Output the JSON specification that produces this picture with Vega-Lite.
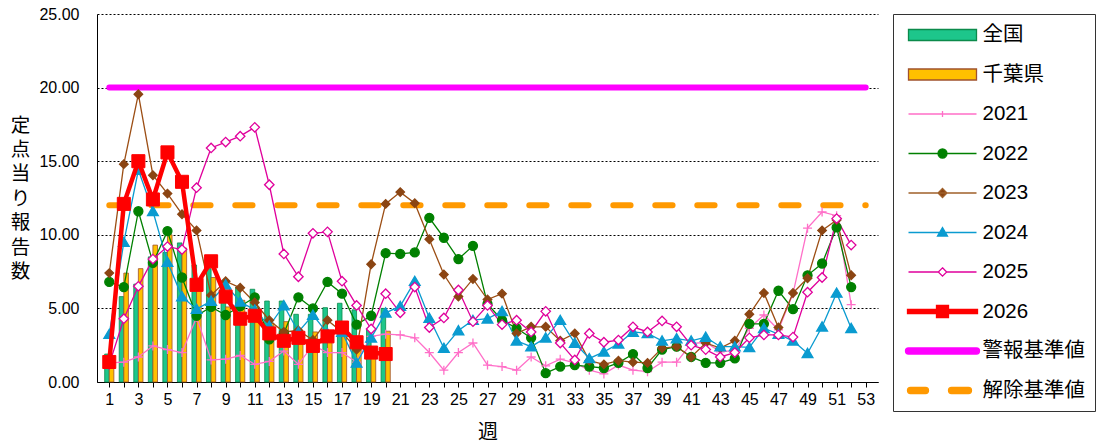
{
  "$schema": "https://vega.github.io/schema/vega-lite/v6.json",
  "width": 781,
  "height": 368,
  "autosize": {"type": "none"},
  "padding": {"left": 97, "top": 14, "right": 221, "bottom": 64},
  "background": "white",
  "config": {
    "font": "Liberation Sans, Noto Sans CJK JP, sans-serif",
    "view": {"stroke": null},
    "legend": {
      "orient": "right",
      "offset": 15,
      "padding": 10,
      "strokeColor": "#333333",
      "fillColor": "white",
      "symbolSize": 400,
      "symbolStrokeWidth": 1.3,
      "symbolOffset": 28.5,
      "labelOffset": 29,
      "labelFontSize": 20.5,
      "labelColor": "black",
      "labelFont": "Liberation Sans, Noto Sans CJK JP, sans-serif",
      "rowPadding": 17.5,
      "labelLimit": 300
    }
  },
  "datasets": {
    "bars": [
      {"week":1,"series":"全国","value":1.9},{"week":2,"series":"全国","value":5.8},{"week":3,"series":"全国","value":6.65},{"week":4,"series":"全国","value":8.5},{"week":5,"series":"全国","value":8.8},{"week":6,"series":"全国","value":9.45},{"week":7,"series":"全国","value":7.95},{"week":8,"series":"全国","value":7.7},{"week":9,"series":"全国","value":6.05},{"week":10,"series":"全国","value":6.45},{"week":11,"series":"全国","value":6.3},{"week":12,"series":"全国","value":5.5},{"week":13,"series":"全国","value":5.5},{"week":14,"series":"全国","value":4.6},{"week":15,"series":"全国","value":4.6},{"week":16,"series":"全国","value":5.05},{"week":17,"series":"全国","value":5.35},{"week":18,"series":"全国","value":4.9},{"week":19,"series":"全国","value":3.6},{"week":20,"series":"全国","value":5.0},
      {"week":1,"series":"千葉県","value":1.0},{"week":2,"series":"千葉県","value":7.4},{"week":3,"series":"千葉県","value":7.7},{"week":4,"series":"千葉県","value":9.3},{"week":5,"series":"千葉県","value":10.0},{"week":6,"series":"千葉県","value":9.1},{"week":7,"series":"千葉県","value":6.7},{"week":8,"series":"千葉県","value":7.1},{"week":9,"series":"千葉県","value":5.1},{"week":10,"series":"千葉県","value":5.55},{"week":11,"series":"千葉県","value":5.1},{"week":12,"series":"千葉県","value":4.0},{"week":13,"series":"千葉県","value":4.1},{"week":14,"series":"千葉県","value":3.3},{"week":15,"series":"千葉県","value":3.4},{"week":16,"series":"千葉県","value":3.1},{"week":17,"series":"千葉県","value":3.5},{"week":18,"series":"千葉県","value":2.4},{"week":19,"series":"千葉県","value":2.2},{"week":20,"series":"千葉県","value":3.45}
    ],
    "thr": [
      {"week":1,"series":"警報基準値","value":20},{"week":53,"series":"警報基準値","value":20},
      {"week":1,"series":"解除基準値","value":12},{"week":53,"series":"解除基準値","value":12}
    ],
    "lines": [
      {"week":1,"series":"2021","value":1.3},{"week":2,"series":"2021","value":1.35},{"week":3,"series":"2021","value":1.7},{"week":4,"series":"2021","value":2.45},{"week":5,"series":"2021","value":2.2},{"week":6,"series":"2021","value":2.0},{"week":7,"series":"2021","value":4.4},{"week":8,"series":"2021","value":1.5},{"week":9,"series":"2021","value":1.55},{"week":10,"series":"2021","value":1.8},{"week":11,"series":"2021","value":1.2},{"week":12,"series":"2021","value":1.4},{"week":13,"series":"2021","value":2.1},{"week":14,"series":"2021","value":1.2},{"week":15,"series":"2021","value":2.5},{"week":16,"series":"2021","value":2.0},{"week":17,"series":"2021","value":2.0},{"week":18,"series":"2021","value":1.35},{"week":19,"series":"2021","value":3.1},{"week":20,"series":"2021","value":3.25},{"week":21,"series":"2021","value":3.2},{"week":22,"series":"2021","value":3.0},{"week":23,"series":"2021","value":2.0},{"week":24,"series":"2021","value":0.8},{"week":25,"series":"2021","value":2.0},{"week":26,"series":"2021","value":2.65},{"week":27,"series":"2021","value":1.15},{"week":28,"series":"2021","value":1.05},{"week":29,"series":"2021","value":0.8},{"week":30,"series":"2021","value":1.7},{"week":31,"series":"2021","value":1.1},{"week":32,"series":"2021","value":1.55},{"week":33,"series":"2021","value":1.3},{"week":34,"series":"2021","value":0.8},{"week":35,"series":"2021","value":0.55},{"week":36,"series":"2021","value":1.15},{"week":37,"series":"2021","value":0.8},{"week":38,"series":"2021","value":0.7},{"week":39,"series":"2021","value":1.35},{"week":40,"series":"2021","value":1.35},{"week":41,"series":"2021","value":2.6},{"week":42,"series":"2021","value":2.7},{"week":43,"series":"2021","value":2.05},{"week":44,"series":"2021","value":2.15},{"week":45,"series":"2021","value":3.65},{"week":46,"series":"2021","value":4.55},{"week":47,"series":"2021","value":3.55},{"week":48,"series":"2021","value":6.0},{"week":49,"series":"2021","value":10.45},{"week":50,"series":"2021","value":11.55},{"week":51,"series":"2021","value":11.3},{"week":52,"series":"2021","value":5.25},
      {"week":1,"series":"2022","value":6.8},{"week":2,"series":"2022","value":6.45},{"week":3,"series":"2022","value":11.6},{"week":4,"series":"2022","value":8.1},{"week":5,"series":"2022","value":10.25},{"week":6,"series":"2022","value":7.1},{"week":7,"series":"2022","value":4.5},{"week":8,"series":"2022","value":5.1},{"week":9,"series":"2022","value":4.55},{"week":10,"series":"2022","value":5.15},{"week":11,"series":"2022","value":5.75},{"week":12,"series":"2022","value":2.9},{"week":13,"series":"2022","value":3.3},{"week":14,"series":"2022","value":5.75},{"week":15,"series":"2022","value":5.0},{"week":16,"series":"2022","value":6.8},{"week":17,"series":"2022","value":6.0},{"week":18,"series":"2022","value":3.9},{"week":19,"series":"2022","value":4.5},{"week":20,"series":"2022","value":8.75},{"week":21,"series":"2022","value":8.7},{"week":22,"series":"2022","value":8.8},{"week":23,"series":"2022","value":11.15},{"week":24,"series":"2022","value":9.8},{"week":25,"series":"2022","value":8.35},{"week":26,"series":"2022","value":9.25},{"week":27,"series":"2022","value":5.3},{"week":28,"series":"2022","value":4.2},{"week":29,"series":"2022","value":3.65},{"week":30,"series":"2022","value":3.0},{"week":31,"series":"2022","value":0.6},{"week":32,"series":"2022","value":1.05},{"week":33,"series":"2022","value":1.15},{"week":34,"series":"2022","value":1.05},{"week":35,"series":"2022","value":0.95},{"week":36,"series":"2022","value":1.3},{"week":37,"series":"2022","value":1.9},{"week":38,"series":"2022","value":0.95},{"week":39,"series":"2022","value":2.2},{"week":40,"series":"2022","value":2.4},{"week":41,"series":"2022","value":1.7},{"week":42,"series":"2022","value":1.3},{"week":43,"series":"2022","value":1.3},{"week":44,"series":"2022","value":1.6},{"week":45,"series":"2022","value":3.95},{"week":46,"series":"2022","value":3.95},{"week":47,"series":"2022","value":6.2},{"week":48,"series":"2022","value":4.95},{"week":49,"series":"2022","value":7.25},{"week":50,"series":"2022","value":8.05},{"week":51,"series":"2022","value":10.5},{"week":52,"series":"2022","value":6.45},
      {"week":1,"series":"2023","value":7.4},{"week":2,"series":"2023","value":14.8},{"week":3,"series":"2023","value":19.55},{"week":4,"series":"2023","value":14.05},{"week":5,"series":"2023","value":12.8},{"week":6,"series":"2023","value":11.4},{"week":7,"series":"2023","value":10.3},{"week":8,"series":"2023","value":5.9},{"week":9,"series":"2023","value":6.85},{"week":10,"series":"2023","value":6.4},{"week":11,"series":"2023","value":5.4},{"week":12,"series":"2023","value":4.2},{"week":13,"series":"2023","value":3.4},{"week":14,"series":"2023","value":3.5},{"week":15,"series":"2023","value":2.85},{"week":16,"series":"2023","value":4.2},{"week":17,"series":"2023","value":3.4},{"week":18,"series":"2023","value":2.2},{"week":19,"series":"2023","value":8.0},{"week":20,"series":"2023","value":12.1},{"week":21,"series":"2023","value":12.9},{"week":22,"series":"2023","value":12.15},{"week":23,"series":"2023","value":9.7},{"week":24,"series":"2023","value":7.3},{"week":25,"series":"2023","value":5.8},{"week":26,"series":"2023","value":7.0},{"week":27,"series":"2023","value":5.6},{"week":28,"series":"2023","value":6.0},{"week":29,"series":"2023","value":3.3},{"week":30,"series":"2023","value":3.75},{"week":31,"series":"2023","value":3.75},{"week":32,"series":"2023","value":2.8},{"week":33,"series":"2023","value":3.3},{"week":34,"series":"2023","value":1.45},{"week":35,"series":"2023","value":1.2},{"week":36,"series":"2023","value":1.45},{"week":37,"series":"2023","value":1.35},{"week":38,"series":"2023","value":1.3},{"week":39,"series":"2023","value":2.3},{"week":40,"series":"2023","value":2.4},{"week":41,"series":"2023","value":1.7},{"week":42,"series":"2023","value":2.65},{"week":43,"series":"2023","value":2.3},{"week":44,"series":"2023","value":2.8},{"week":45,"series":"2023","value":4.6},{"week":46,"series":"2023","value":6.05},{"week":47,"series":"2023","value":3.7},{"week":48,"series":"2023","value":6.05},{"week":49,"series":"2023","value":7.05},{"week":50,"series":"2023","value":10.3},{"week":51,"series":"2023","value":11.0},{"week":52,"series":"2023","value":7.25},
      {"week":1,"series":"2024","value":3.25},{"week":2,"series":"2024","value":9.5},{"week":3,"series":"2024","value":14.4},{"week":4,"series":"2024","value":11.6},{"week":5,"series":"2024","value":8.15},{"week":6,"series":"2024","value":5.8},{"week":7,"series":"2024","value":4.95},{"week":8,"series":"2024","value":5.5},{"week":9,"series":"2024","value":6.6},{"week":10,"series":"2024","value":5.45},{"week":11,"series":"2024","value":4.9},{"week":12,"series":"2024","value":3.8},{"week":13,"series":"2024","value":5.2},{"week":14,"series":"2024","value":3.4},{"week":15,"series":"2024","value":4.55},{"week":16,"series":"2024","value":3.3},{"week":17,"series":"2024","value":3.4},{"week":18,"series":"2024","value":1.3},{"week":19,"series":"2024","value":3.0},{"week":20,"series":"2024","value":4.7},{"week":21,"series":"2024","value":5.15},{"week":22,"series":"2024","value":6.85},{"week":23,"series":"2024","value":4.35},{"week":24,"series":"2024","value":2.3},{"week":25,"series":"2024","value":3.5},{"week":26,"series":"2024","value":4.2},{"week":27,"series":"2024","value":4.3},{"week":28,"series":"2024","value":4.8},{"week":29,"series":"2024","value":2.8},{"week":30,"series":"2024","value":2.4},{"week":31,"series":"2024","value":3.0},{"week":32,"series":"2024","value":4.2},{"week":33,"series":"2024","value":2.65},{"week":34,"series":"2024","value":1.6},{"week":35,"series":"2024","value":2.05},{"week":36,"series":"2024","value":2.6},{"week":37,"series":"2024","value":3.4},{"week":38,"series":"2024","value":3.3},{"week":39,"series":"2024","value":2.8},{"week":40,"series":"2024","value":2.95},{"week":41,"series":"2024","value":2.8},{"week":42,"series":"2024","value":3.05},{"week":43,"series":"2024","value":2.4},{"week":44,"series":"2024","value":2.4},{"week":45,"series":"2024","value":2.35},{"week":46,"series":"2024","value":3.65},{"week":47,"series":"2024","value":3.25},{"week":48,"series":"2024","value":2.8},{"week":49,"series":"2024","value":1.95},{"week":50,"series":"2024","value":3.75},{"week":51,"series":"2024","value":6.05},{"week":52,"series":"2024","value":3.65},
      {"week":1,"series":"2025","value":1.2},{"week":2,"series":"2025","value":4.3},{"week":3,"series":"2025","value":6.5},{"week":4,"series":"2025","value":8.35},{"week":5,"series":"2025","value":9.2},{"week":6,"series":"2025","value":9.0},{"week":7,"series":"2025","value":13.2},{"week":8,"series":"2025","value":15.9},{"week":9,"series":"2025","value":16.3},{"week":10,"series":"2025","value":16.7},{"week":11,"series":"2025","value":17.3},{"week":12,"series":"2025","value":13.4},{"week":13,"series":"2025","value":8.7},{"week":14,"series":"2025","value":7.15},{"week":15,"series":"2025","value":10.1},{"week":16,"series":"2025","value":10.2},{"week":17,"series":"2025","value":6.85},{"week":18,"series":"2025","value":5.2},{"week":19,"series":"2025","value":3.6},{"week":20,"series":"2025","value":6.0},{"week":21,"series":"2025","value":4.7},{"week":22,"series":"2025","value":6.45},{"week":23,"series":"2025","value":3.7},{"week":24,"series":"2025","value":4.35},{"week":25,"series":"2025","value":6.25},{"week":26,"series":"2025","value":4.1},{"week":27,"series":"2025","value":5.2},{"week":28,"series":"2025","value":3.9},{"week":29,"series":"2025","value":4.2},{"week":30,"series":"2025","value":3.4},{"week":31,"series":"2025","value":4.8},{"week":32,"series":"2025","value":2.65},{"week":33,"series":"2025","value":1.5},{"week":34,"series":"2025","value":3.3},{"week":35,"series":"2025","value":2.7},{"week":36,"series":"2025","value":2.85},{"week":37,"series":"2025","value":3.75},{"week":38,"series":"2025","value":3.4},{"week":39,"series":"2025","value":4.15},{"week":40,"series":"2025","value":3.75},{"week":41,"series":"2025","value":2.5},{"week":42,"series":"2025","value":2.2},{"week":43,"series":"2025","value":1.7},{"week":44,"series":"2025","value":2.0},{"week":45,"series":"2025","value":3.0},{"week":46,"series":"2025","value":3.2},{"week":47,"series":"2025","value":3.2},{"week":48,"series":"2025","value":3.05},{"week":49,"series":"2025","value":6.1},{"week":50,"series":"2025","value":7.1},{"week":51,"series":"2025","value":11.1},{"week":52,"series":"2025","value":9.3},
      {"week":1,"series":"2026","value":1.36},{"week":2,"series":"2026","value":12.1},{"week":3,"series":"2026","value":15.0},{"week":4,"series":"2026","value":12.4},{"week":5,"series":"2026","value":15.6},{"week":6,"series":"2026","value":13.6},{"week":7,"series":"2026","value":6.6},{"week":8,"series":"2026","value":8.2},{"week":9,"series":"2026","value":5.8},{"week":10,"series":"2026","value":4.3},{"week":11,"series":"2026","value":4.5},{"week":12,"series":"2026","value":3.3},{"week":13,"series":"2026","value":2.8},{"week":14,"series":"2026","value":3.0},{"week":15,"series":"2026","value":2.45},{"week":16,"series":"2026","value":3.1},{"week":17,"series":"2026","value":3.7},{"week":18,"series":"2026","value":2.7},{"week":19,"series":"2026","value":2.0},{"week":20,"series":"2026","value":1.9}
    ]
  },
  "encoding": {
    "x": {
      "field": "week", "type": "quantitative",
      "scale": {"domain": [0.5, 53.5], "nice": false, "zero": false},
      "axis": {
        "values": [1,2,3,4,5,6,7,8,9,10,11,12,13,14,15,16,17,18,19,20,21,22,23,24,25,26,27,28,29,30,31,32,33,34,35,36,37,38,39,40,41,42,43,44,45,46,47,48,49,50,51,52,53],
        "labelExpr": "datum.value % 2 == 1 ? datum.label : ''",
        "format": "d",
        "grid": false,
        "tickSize": 5,
        "tickColor": "black",
        "domainColor": "black",
        "labelFontSize": 16,
        "labelColor": "black",
        "labelPadding": 4,
        "labelFlush": false,
        "labelOverlap": false,
        "title": "週",
        "titleFontSize": 20,
        "titleFontWeight": "normal",
        "titleColor": "black",
        "titleY": 50,
        "titleBaseline": "middle"
      }
    },
    "y": {
      "field": "value", "type": "quantitative",
      "scale": {"domain": [0, 25], "nice": false},
      "axis": {
        "values": [0, 5, 10, 15, 20, 25],
        "format": ".2f",
        "grid": true,
        "gridDash": [2, 2],
        "gridColor": "black",
        "gridWidth": 1,
        "tickSize": 0,
        "labelPadding": 18,
        "labelFontSize": 16,
        "labelColor": "black",
        "domainColor": "black",
        "title": ["定", "点", "当", "り", "報", "告", "数"],
        "titleAngle": 0,
        "titleX": -77,
        "titleY": 111,
        "titleAlign": "center",
        "titleBaseline": "middle",
        "titleLineHeight": 24.4,
        "titleFontSize": 19.5,
        "titleFontWeight": "normal",
        "titleColor": "black"
      }
    }
  },
  "layer": [
    {
      "data": {"name": "bars"},
      "transform": [{"filter": "datum.series == '全国'"}],
      "mark": {"type": "bar", "width": 4.6, "xOffset": -2.3, "fill": "#1DC68B", "stroke": "#0B8A4B", "strokeWidth": 0.8}
    },
    {
      "data": {"name": "bars"},
      "transform": [{"filter": "datum.series == '千葉県'"}],
      "mark": {"type": "bar", "width": 4.6, "xOffset": 2.3, "fill": "#FFC000", "stroke": "#A0522D", "strokeWidth": 0.8}
    },
    {
      "data": {"name": "thr"},
      "mark": {"type": "line", "strokeWidth": 6, "strokeCap": "round"},
      "encoding": {
        "stroke": {"field": "series", "type": "nominal", "scale": {"domain": ["警報基準値", "解除基準値"], "range": ["#FF00FF", "#FF9900"]}, "legend": null},
        "strokeDash": {"field": "series", "type": "nominal", "scale": {"domain": ["警報基準値", "解除基準値"], "range": [[1, 0], [17.3, 24.7]]}, "legend": null}
      }
    },
    {
      "data": {"name": "lines"},
      "transform": [{"filter": "datum.series != '2026'"}],
      "mark": {"type": "line", "strokeWidth": 1.3},
      "encoding": {
        "stroke": {"field": "series", "type": "nominal", "scale": {"domain": ["2021", "2022", "2023", "2024", "2025"], "range": ["#FF6FC8", "#008000", "#9C4E14", "#0A9BD0", "#E0009C"]}, "legend": null}
      }
    },
    {
      "data": {"name": "lines"},
      "transform": [{"filter": "datum.series != '2026'"}],
      "mark": {"type": "point", "filled": true, "opacity": 1, "size": 81, "strokeWidth": 1.3},
      "encoding": {
        "shape": {"field": "series", "type": "nominal", "scale": {"domain": ["2021", "2022", "2023", "2024", "2025"], "range": ["M-1,0H1M0,-1V1", "M1,0A1,1,0,1,1,-1,0A1,1,0,1,1,1,0Z", "M-0.95,0L0,-0.95L0.95,0L0,0.95Z", "M0,-1.1L1.2,0.95L-1.2,0.95Z", "M-1.05,0L0,-1.05L1.05,0L0,1.05Z"]}, "legend": null},
        "fill": {"field": "series", "type": "nominal", "scale": {"domain": ["2021", "2022", "2023", "2024", "2025"], "range": ["#FF6FC8", "#008000", "#8B4513", "#0A9BD0", "#FFFFFF"]}, "legend": null},
        "stroke": {"field": "series", "type": "nominal", "scale": {"domain": ["2021", "2022", "2023", "2024", "2025"], "range": ["#FF6FC8", "#008000", "#8B4513", "#0A9BD0", "#E0009C"]}, "legend": null}
      }
    },
    {
      "data": {"name": "lines"},
      "transform": [{"filter": "datum.series == '2026'"}],
      "mark": {"type": "line", "stroke": "#FF0000", "strokeWidth": 4.5}
    },
    {
      "data": {"name": "lines"},
      "transform": [{"filter": "datum.series == '2026'"}],
      "mark": {"type": "point", "shape": "square", "filled": true, "fill": "#FF0000", "stroke": "#FF0000", "strokeWidth": 1, "size": 170, "opacity": 1}
    },
    {
      "data": {"values": [{}]},
      "mark": {"type": "rule", "stroke": "black", "strokeWidth": 1},
      "encoding": {
        "x": {"datum": 53.5, "type": "quantitative"},
        "y": {"datum": 0, "type": "quantitative"},
        "y2": {"datum": 25}
      }
    },
    {
      "data": {"values": []},
      "mark": {"type": "point", "filled": true, "opacity": 1},
      "encoding": {
        "shape": {"field": "series", "type": "nominal",
          "scale": {"domain": ["全国", "千葉県", "2021", "2022", "2023", "2024", "2025", "2026", "警報基準値", "解除基準値"],
            "range": [
              "M-3.4,-0.55H3.4V0.55H-3.4Z",
              "M-3.4,-0.55H3.4V0.55H-3.4Z",
              "M-3.4,0H3.4M0,-0.3V0.3",
              "M-3.4,0H3.4M0.45,0A0.45,0.45,0,1,1,-0.45,0A0.45,0.45,0,1,1,0.45,0Z",
              "M-3.4,0H3.4M0,-0.45L0.45,0L0,0.45L-0.45,0Z",
              "M-3.4,0H3.4M0,-0.5L0.5,0.35L-0.5,0.35Z",
              "M-3.4,0H-0.42M0.42,0H3.4M0,-0.42L0.42,0L0,0.42L-0.42,0Z",
              "M-3.5,-0.2H3.5V0.2H-3.5ZM-0.6,-0.6H0.6V0.6H-0.6Z",
              "M-3.4,-0.3H3.4A0.3,0.3,0,0,1,3.4,0.3H-3.4A0.3,0.3,0,0,1,-3.4,-0.3Z",
              "M-3.2,-0.3H-1.7A0.3,0.3,0,0,1,-1.7,0.3H-3.2A0.3,0.3,0,0,1,-3.2,-0.3ZM0.9,-0.3H2.6A0.3,0.3,0,0,1,2.6,0.3H0.9A0.3,0.3,0,0,1,0.9,-0.3Z"
            ]},
          "legend": {"title": null}},
        "fill": {"field": "series", "type": "nominal",
          "scale": {"domain": ["全国", "千葉県", "2021", "2022", "2023", "2024", "2025", "2026", "警報基準値", "解除基準値"],
            "range": ["#1DC68B", "#FFC000", "#FF6FC8", "#008000", "#8B4513", "#0A9BD0", "#FFFFFF", "#FF0000", "#FF00FF", "#FF9900"]},
          "legend": {"title": null}},
        "stroke": {"field": "series", "type": "nominal",
          "scale": {"domain": ["全国", "千葉県", "2021", "2022", "2023", "2024", "2025", "2026", "警報基準値", "解除基準値"],
            "range": ["#0B8A4B", "#A0522D", "#FF6FC8", "#008000", "#A0602A", "#0A9BD0", "#E0009C", "#FF0000", "#FF00FF", "#FF9900"]},
          "legend": {"title": null}}
      }
    }
  ],
  "resolve": {"scale": {"fill": "independent", "stroke": "independent", "shape": "independent"}}
}
